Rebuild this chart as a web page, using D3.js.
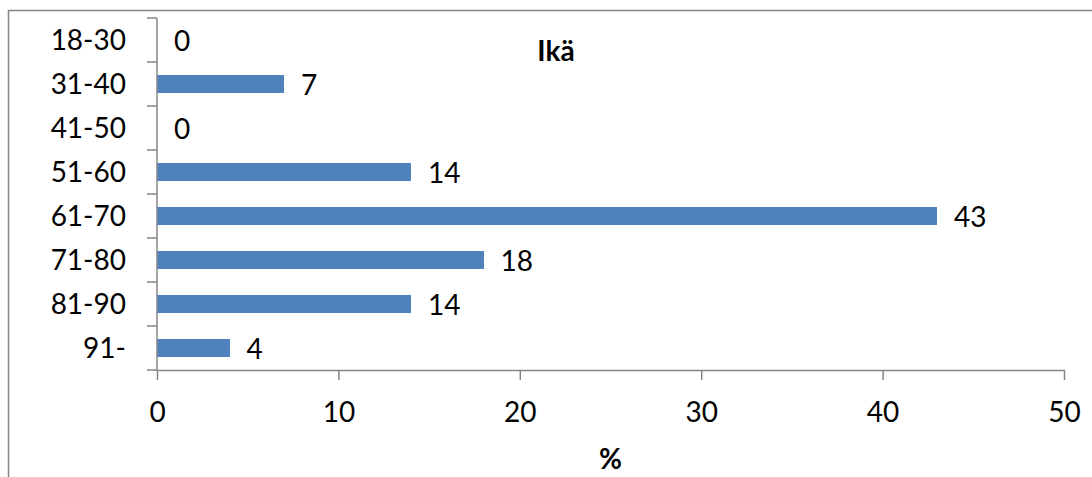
<!DOCTYPE html>
<html>
<head>
<meta charset="utf-8">
<script src="https://cdn.jsdelivr.net/npm/d3@7"></script>
<style>
  html, body { margin: 0; padding: 0; background: #fff; }
  svg { display: block; }
  text { font-family: Lato, "Open Sans", sans-serif; fill: #000; }
</style>
</head>
<body>
<svg id="chart" width="1092" height="477"></svg>
<script>
// Age groups and their share of respondents (%)
const categories = ["18-30", "31-40", "41-50", "51-60", "61-70", "71-80", "81-90", "91-"];
const values = [0, 7, 0, 14, 43, 18, 14, 4];
const xTicks = [0, 10, 20, 30, 40, 50];
const title = "Ikä";
const xTitle = "%";

const svg = d3.select("#chart");
const W = 1092, H = 477;
const plot = { left: 157, right: 1064, top: 18, bottom: 370 };
const axisColor = "#868686";
const barColor = "#4F81BD";
const fontSize = 28;

// Outer chart frame (runs off the right and bottom edges)
svg.append("rect")
  .attr("x", 8.5).attr("y", 10.5)
  .attr("width", W).attr("height", H)
  .attr("fill", "none")
  .attr("stroke", axisColor)
  .attr("stroke-width", 1.5);

const x = d3.scaleLinear().domain([0, 50]).range([plot.left, plot.right]);
const pad = 0.59;
const y = d3.scaleBand()
  .domain(categories)
  .range([plot.top, plot.bottom])
  .paddingInner(pad)
  .paddingOuter(pad / 2);

const data = categories.map((c, i) => ({ cat: c, value: values[i] }));

// Bars
svg.append("g")
  .selectAll("rect")
  .data(data)
  .join("rect")
  .attr("x", x(0))
  .attr("y", d => y(d.cat))
  .attr("width", d => x(d.value) - x(0))
  .attr("height", y.bandwidth())
  .attr("fill", barColor)
  .attr("shape-rendering", "crispEdges");

// X axis
const xAxis = svg.append("g")
  .attr("transform", `translate(0,${plot.bottom})`)
  .call(d3.axisBottom(x).tickValues(xTicks).tickSize(10).tickSizeOuter(0).tickFormat(d3.format("d")));
xAxis.select(".domain").attr("stroke", axisColor).attr("stroke-width", 1.5);
xAxis.selectAll(".tick line").attr("stroke", axisColor).attr("stroke-width", 1.5);
xAxis.selectAll(".tick text")
  .attr("y", 52).attr("dy", 0)
  .attr("font-size", fontSize)
  .style("font-family", "Lato, 'Open Sans', sans-serif")
  .attr("fill", "#000");

// Y axis: line with ticks on the category boundaries
const yAxis = svg.append("g");
yAxis.append("line")
  .attr("x1", plot.left).attr("x2", plot.left)
  .attr("y1", plot.top).attr("y2", plot.bottom)
  .attr("stroke", axisColor).attr("stroke-width", 1.5);
const step = y.step();
const boundaries = categories.map(c => y(c) - (step - y.bandwidth()) / 2).concat([plot.bottom]);
yAxis.selectAll("line.tick")
  .data(boundaries)
  .join("line")
  .attr("class", "tick")
  .attr("x1", plot.left - 10).attr("x2", plot.left)
  .attr("y1", d => d).attr("y2", d => d)
  .attr("stroke", axisColor).attr("stroke-width", 1.5);

// Category labels
yAxis.selectAll("text")
  .data(categories)
  .join("text")
  .attr("x", 126)
  .attr("y", d => y(d) + y.bandwidth() / 2 + 10)
  .attr("text-anchor", "end")
  .attr("font-size", fontSize)
  .text(d => d);

// Value labels
svg.append("g")
  .selectAll("text")
  .data(data)
  .join("text")
  .attr("x", d => x(d.value) + 17)
  .attr("y", d => y(d.cat) + y.bandwidth() / 2 + 11)
  .attr("font-size", fontSize)
  .text(d => d3.format("d")(d.value));

// Titles
svg.append("text")
  .attr("x", 556).attr("y", 61)
  .attr("text-anchor", "middle")
  .attr("font-size", 28)
  .attr("font-weight", "bold")
  .text(title);

svg.append("text")
  .attr("x", (plot.left + plot.right) / 2).attr("y", 469)
  .attr("text-anchor", "middle")
  .attr("font-size", 28)
  .attr("font-weight", "bold")
  .text(xTitle);
</script>
</body>
</html>
